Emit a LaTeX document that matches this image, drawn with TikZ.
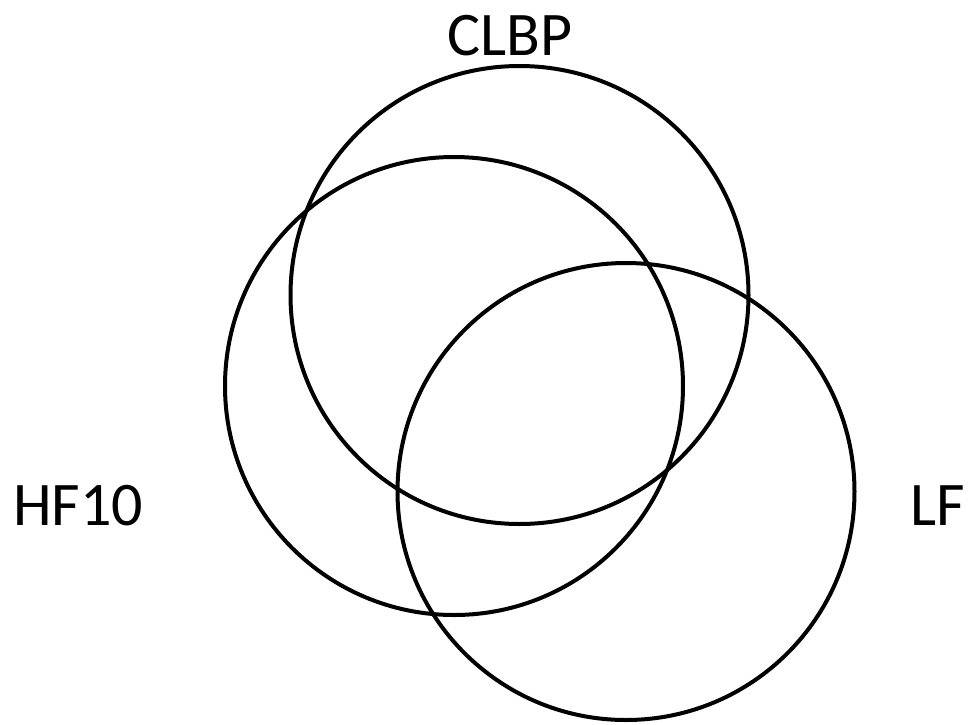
\documentclass[tikz,border=0pt]{standalone}
\usepackage{fontspec}
\setmainfont{Carlito}
\begin{document}
\begin{tikzpicture}[x=1pt,y=-1pt,
  venn/.style={draw=black,line width=4pt},
  lbl/.style={anchor=base,inner sep=0pt,font=\fontsize{62}{62}\selectfont}]
\useasboundingbox (0,0) rectangle (970,724);
\node[venn,circle,minimum size=458pt,inner sep=0pt] (clbp) at (519.5,295) {};
\node[venn,circle,minimum size=458pt,inner sep=0pt] (hf) at (454,386) {};
\node[venn,circle,minimum size=457pt,inner sep=0pt] (lf) at (626,491.5) {};
\node[lbl] (tclbp) at (510,55) {CLBP};
\node[lbl] (thf) at (78,525) {HF10};
\node[lbl] (tlf) at (938,525) {LF};
\end{tikzpicture}
\end{document}
